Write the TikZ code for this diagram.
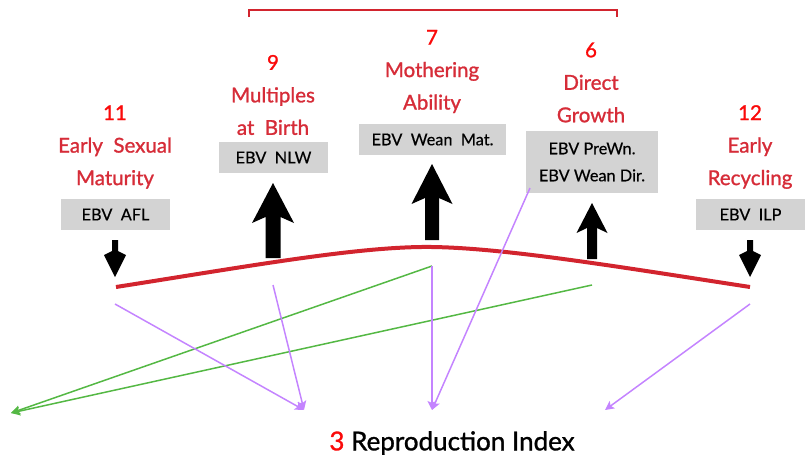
\documentclass[tikz,border=0pt]{standalone}
\usepackage{fontspec}
\setmainfont{Lato}
\newfontfamily\medfont[FakeBold=1.2]{Lato}
\newfontfamily\ebvfont[FakeBold=0.4]{Lato}
\usetikzlibrary{arrows.meta}
\definecolor{lblred}{RGB}{214,44,56}
\definecolor{numred}{RGB}{250,10,10}
\definecolor{boxgray}{RGB}{211,211,211}
\definecolor{curvered}{RGB}{210,36,46}
\definecolor{lav}{RGB}{196,132,255}
\definecolor{grn}{RGB}{84,184,68}
\newcommand\blkarrow[7]{\fill (#1,#2) -- ({#1+#5},#3) -- ({#1+#6},#7) -- ({#1+#6},#4) -- ({#1-#6},#4) -- ({#1-#6},#7) -- ({#1-#5},#3) -- cycle;}
\begin{document}
\begin{tikzpicture}[x=1pt,y=-1pt,
  lbl/.style={align=center, text=lblred, font=\medfont\fontsize{20.5}{32.5}\selectfont, inner sep=0pt},
  ebv/.style={fill=boxgray, inner sep=0pt, text=black, font=\ebvfont\fontsize{16.3}{27}\selectfont, align=center, minimum height=31pt},
  purp/.style={draw=lav, line width=1.5pt, -{Stealth[length=9pt,width=9pt,inset=2pt]}},
  gr/.style={draw=grn, line width=1.5pt, -{Stealth[length=9pt,width=9pt,inset=2pt]}},
]
\useasboundingbox (0,0) rectangle (806,461);
% bracket
\draw[curvered, line width=1.6pt] (249,17) -- (249,10) -- (617,10) -- (617,17);
% labels
\node[lbl] (l11) at (115,147) {{\color{numred}11}\\Early\ \ Sexual\\Maturity};
\node[lbl] (l9) at (273,95) {{\color{numred}9}\\Multiples\\at\ \ Birth};
\node[lbl] (l7) at (432,71.5) {{\color{numred}7}\\Mothering\\Ability};
\node[lbl] (l6) at (591,82.5) {{\color{numred}6}\\Direct\\Growth};
\node[lbl] (l12) at (750,147) {{\color{numred}12}\\Early\\Recycling};
% ebv boxes
\node[ebv, minimum width=109pt] (bAFL) at (115.5,214.5) {EBV\ \ AFL};
\node[ebv, minimum width=109pt] (bNLW) at (273.5,157.5) {EBV\ \ NLW};
\node[ebv, minimum width=147pt] (bMat) at (432.5,139.5) {EBV\ \ Wean\ \ Mat.};
\node[ebv, minimum width=132pt, minimum height=62pt] (bDir) at (592,162) {EBV PreWn.\\EBV Wean Dir.};
\node[ebv, minimum width=109pt] (bILP) at (750.5,214.5) {EBV\ \ ILP};
% block arrows
\blkarrow{115}{277}{255}{240}{11}{3}{251}
\blkarrow{273}{183}{223}{258}{21}{7.5}{217}
\blkarrow{432}{164}{204}{240}{20.5}{7}{198}
\blkarrow{592}{203}{233}{259}{15.5}{5}{228}
\blkarrow{750}{277}{255}{240}{11}{3}{251}
% red curve
\coordinate (cL) at (116,287);
\coordinate (cM) at (432,247);
\coordinate (cR) at (750,287);
\draw[curvered, line width=4pt] (cL) .. controls (250,266) and (360,246) .. (cM) .. controls (504,248) and (614,266) .. (cR);
% connector ends
\coordinate (s11) at (115,304);
\coordinate (s9) at (273,285);
\coordinate (s7) at (432,266);
\coordinate (s6) at (592,285);
\coordinate (s12) at (750,304);
\coordinate (sDir) at (530,188);
\coordinate (t1) at (304,410);
\coordinate (t2) at (432,410);
\coordinate (t3) at (605,410);
\coordinate (tg) at (11,413);
% green
\draw[gr] (s7) -- (tg);
\draw[gr] (s6) -- (tg);
% purple
\draw[purp] (s11) -- (t1);
\draw[purp] (s9) -- (t1);
\draw[purp] (s7) -- (t2);
\draw[purp] (sDir) -- (t2);
\draw[purp] (s12) -- (t3);
% title
\node[font=\medfont\fontsize{26}{30}\selectfont, inner sep=0pt] (title) at (452,443) {{\color{numred}3} Reproduction Index};
\end{tikzpicture}
\end{document}
